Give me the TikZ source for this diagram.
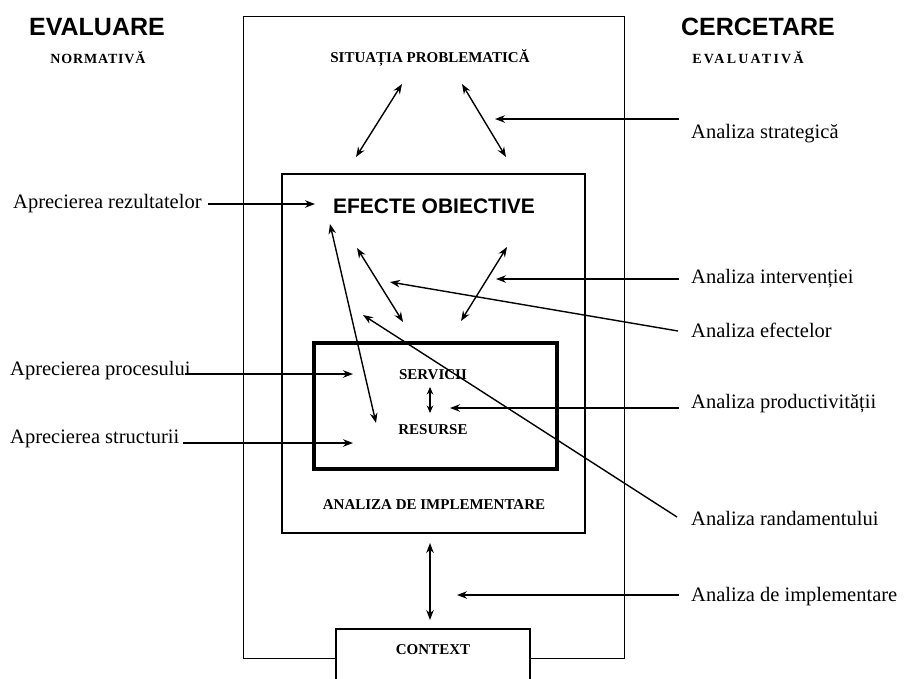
\documentclass[tikz,border=0pt]{standalone}
\usepackage{fontspec}
\setmainfont{Liberation Serif}
\newfontfamily\headsans{Liberation Sans}
\newfontfamily\spacedA[LetterSpace=6]{Liberation Serif}
\newfontfamily\spacedB[LetterSpace=16]{Liberation Serif}
\usetikzlibrary{arrows.meta}

\begin{document}
\begin{tikzpicture}[x=1pt,y=-1pt,
  tip/.tip={Stealth[length=10pt,width=7.5pt]},
  smalltip/.tip={Stealth[length=7.5pt,width=6.5pt]},
  lbl/.style={font=\fontsize{20.5}{23}\selectfont, inner sep=0pt, anchor=base west},
  capt/.style={font=\fontsize{15}{17}\selectfont\bfseries, inner sep=0pt, anchor=base},
  headline/.style={font=\headsans\fontsize{25}{28}\selectfont\bfseries, inner sep=0pt},
  subhead/.style={font=\fontsize{14}{16}\selectfont\bfseries, inner sep=0pt, anchor=base},
  frame/.style={draw, inner sep=0pt},
  arr/.style={-tip, line width=1.4pt},
  darr/.style={tip-tip, line width=1.4pt},
]
\useasboundingbox (0,0) rectangle (907,678);

% frames, from the outermost inwards
\node[frame, line width=1pt, minimum width=381pt, minimum height=642pt] (outer) at (433.5,337) {};
\node[frame, line width=1.8pt, minimum width=303pt, minimum height=359pt] (effbox) at (433.5,353.5) {};
\node[frame, line width=3.4pt, minimum width=243pt, minimum height=126pt] (inbox) at (435.5,406) {};
\node[frame, fill=white, line width=1.4pt, minimum width=194pt, minimum height=71pt] (ctxbox) at (433,664.5) {};

% column headings
\node[headline] (evhead) at (97,27) {EVALUARE};
\node[subhead, font=\spacedA\fontsize{14}{16}\selectfont\bfseries] (evsub) at (98,63) {NORMATIVĂ};
\node[headline] (cchead) at (758,27) {CERCETARE};
\node[subhead, font=\spacedB\fontsize{14}{16}\selectfont\bfseries] (ccsub) at (748,63) {EVALUATIVĂ};

% texts inside the frames
\node[capt] (sit) at (430,62) {SITUAȚIA PROBLEMATICĂ};
\node[font=\headsans\fontsize{21}{24}\selectfont\bfseries, inner sep=0pt, anchor=base] (eff) at (434,213) {EFECTE OBIECTIVE};
\node[capt] (serv) at (433,379) {SERVICII};
\node[capt] (res) at (433,434) {RESURSE};
\node[capt] (impl) at (434,509) {ANALIZA DE IMPLEMENTARE};
\node[capt] (ctx) at (433,654) {CONTEXT};

% left-hand labels
\node[lbl] (lrez) at (13,208) {Aprecierea rezultatelor};
\node[lbl] (lproc) at (10,375) {Aprecierea procesului};
\node[lbl] (lstr) at (10,443) {Aprecierea structurii};

% right-hand labels
\node[lbl] (rstrat) at (691,138) {Analiza strategică};
\node[lbl] (rint) at (691,283) {Analiza intervenției};
\node[lbl] (reff) at (691,337) {Analiza efectelor};
\node[lbl] (rprod) at (691,408) {Analiza productivității};
\node[lbl] (rrand) at (691,525) {Analiza randamentului};
\node[lbl] (rimpl) at (691,601) {Analiza de implementare};

% arrow end points
\coordinate (triLa) at (402,84);   \coordinate (triLb) at (356,157);
\coordinate (triRa) at (462,84);   \coordinate (triRb) at (506,157);
\coordinate (inLa) at (357,248);   \coordinate (inLb) at (403,322);
\coordinate (inRa) at (507,247);   \coordinate (inRb) at (461,321);
\coordinate (longA) at (330,224);  \coordinate (longB) at (376,423);
\coordinate (srA) at (430,387);    \coordinate (srB) at (430,413);
\coordinate (ctA) at (430,543);    \coordinate (ctB) at (430,620);

\coordinate (strT) at (679,119);   \coordinate (strH) at (495,119);
\coordinate (intT) at (679,279);   \coordinate (intH) at (496,279);
\coordinate (efT) at (678,331);    \coordinate (efH) at (390,282);
\coordinate (prT) at (679,408);    \coordinate (prH) at (450,408);
\coordinate (raT) at (677,517);    \coordinate (raH) at (363,315);
\coordinate (imT) at (679,595);    \coordinate (imH) at (457,595);

\coordinate (rzT) at (208,204);    \coordinate (rzH) at (315,204);
\coordinate (pcT) at (185,374);    \coordinate (pcH) at (353,374);
\coordinate (stT) at (183,443);    \coordinate (stH) at (353,443);

% two-way links
\draw[darr] (triLa) -- (triLb);
\draw[darr] (triRa) -- (triRb);
\draw[darr] (inLa) -- (inLb);
\draw[darr] (inRa) -- (inRb);
\draw[darr] (longA) -- (longB);
\draw[smalltip-smalltip, line width=1.4pt] (srA) -- (srB);
\draw[darr] (ctA) -- (ctB);

% research arrows
\draw[arr] (strT) -- (strH);
\draw[arr] (intT) -- (intH);
\draw[arr] (efT) -- (efH);
\draw[arr] (prT) -- (prH);
\draw[arr] (raT) -- (raH);
\draw[arr] (imT) -- (imH);

% evaluation arrows
\draw[arr] (rzT) -- (rzH);
\draw[arr] (pcT) -- (pcH);
\draw[arr] (stT) -- (stH);
\end{tikzpicture}
\end{document}
